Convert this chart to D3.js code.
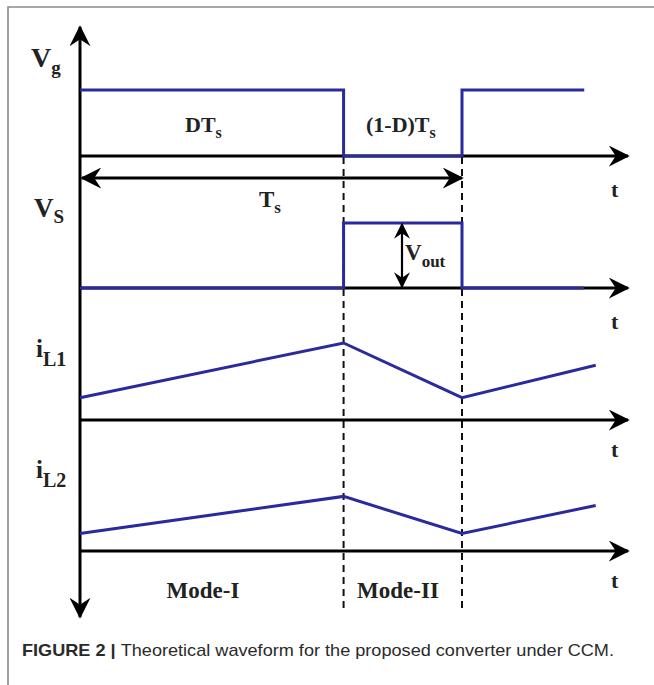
<!DOCTYPE html>
<html>
<head>
<meta charset="utf-8">
<script src="https://cdn.jsdelivr.net/npm/d3@7/dist/d3.min.js"></script>
<style>
html,body{margin:0;padding:0;background:#fff;}
svg{display:block;}
.lbl{font-family:"Liberation Serif","Times New Roman",serif;font-weight:bold;fill:#222;}
</style>
</head>
<body>
<svg id="c" width="654" height="685"></svg>
<script>
// ---- data (time in units of Ts, amplitude in arbitrary units) ----
const D = 0.69;                       // duty ratio
const tEnd = 1.32;                    // end of drawn waveforms
const tRampEnd = 1.35;
const vgTimes  = [0, D, D, 1, 1, tEnd];
const vgValues = [1, 1, 0, 0, 1, 1];
const vsTimes  = [0, D, D, 1, 1, tEnd];
const vsValues = [0, 0, 1, 1, 0, 0];
const iL1Times  = [0, D, 1, tRampEnd];
const iL1Values = [0.29, 1.0, 0.29, 0.71];
const iL2Times  = [0, D, 1, tRampEnd];
const iL2Values = [0.27, 0.84, 0.27, 0.70];
const modeLabels = ["Mode-I", "Mode-II"];
const caption = "Theoretical waveform for the proposed converter under CCM.";

const svg = d3.select("#c");
const blue = "#2a2a9c";

// frame
svg.append("path").attr("d","M8,685 L8,7 L654,7").attr("fill","none")
  .attr("stroke","#8a8a8a").attr("stroke-width",1.6);

// arrow markers
const defs = svg.append("defs");
defs.append("marker").attr("id","ah").attr("viewBox","0 0 12 12")
  .attr("refX",11).attr("refY",6).attr("markerWidth",21).attr("markerHeight",21)
  .attr("markerUnits","userSpaceOnUse").attr("orient","auto-start-reverse")
  .append("path").attr("d","M0,0 L12,6 L0,12 L4,6 Z").attr("fill","#000");
defs.append("marker").attr("id","ahs").attr("viewBox","0 0 12 12")
  .attr("refX",11).attr("refY",6).attr("markerWidth",16).attr("markerHeight",16)
  .attr("markerUnits","userSpaceOnUse").attr("orient","auto-start-reverse")
  .append("path").attr("d","M0,0 L12,6 L0,12 L4,6 Z").attr("fill","#000");

// scales
const x = d3.scaleLinear().domain([0, 1]).range([80, 462]);
const axisEnd = 628;
const panels = [
  {axisY:156, y: d3.scaleLinear().domain([0,1]).range([156, 90])},
  {axisY:288, y: d3.scaleLinear().domain([0,1]).range([288, 223])},
  {axisY:420, y: d3.scaleLinear().domain([0,1]).range([420, 343])},
  {axisY:551, y: d3.scaleLinear().domain([0,1]).range([551, 486])}
];

// dashed lines at transitions
[D, 1].forEach(t=>{
  svg.append("line").attr("x1",x(t)).attr("x2",x(t)).attr("y1",157).attr("y2",612)
    .attr("stroke","#111").attr("stroke-width",2).attr("stroke-dasharray","7,5");
});

// horizontal axes
panels.forEach(p=>{
  svg.append("line").attr("x1",80).attr("x2",axisEnd).attr("y1",p.axisY).attr("y2",p.axisY)
    .attr("stroke","#000").attr("stroke-width",3).attr("marker-end","url(#ah)");
});
// vertical axis with arrows both ends
svg.append("line").attr("x1",80).attr("x2",80).attr("y1",617).attr("y2",27)
  .attr("stroke","#000").attr("stroke-width",3)
  .attr("marker-end","url(#ah)").attr("marker-start","url(#ah)");

// waveforms
const line = (ys)=> d3.line().x(d=>x(d[0])).y(d=>ys(d[1]));
const series = [[vgTimes,vgValues],[vsTimes,vsValues],[iL1Times,iL1Values],[iL2Times,iL2Values]];
series.forEach((s,i)=>{
  const pts = s[0].map((t,k)=>[t, s[1][k]]);
  svg.append("path").attr("d", line(panels[i].y)(pts)).attr("fill","none")
    .attr("stroke",blue).attr("stroke-width",3).attr("stroke-linejoin","miter");
});

// Ts double arrow
svg.append("line").attr("x1",x(0)+2).attr("x2",x(1)).attr("y1",178).attr("y2",178)
  .attr("stroke","#000").attr("stroke-width",3)
  .attr("marker-end","url(#ah)").attr("marker-start","url(#ah)");
// Vout double arrow
svg.append("line").attr("x1",402).attr("x2",402).attr("y1",panels[1].y(1)+1).attr("y2",panels[1].axisY-1)
  .attr("stroke","#000").attr("stroke-width",2.2)
  .attr("marker-end","url(#ahs)").attr("marker-start","url(#ahs)");

// label helper: main + subscript
function lab(xp, yp, main, sub, size, subSize, dy){
  const t = svg.append("text").attr("class","lbl").attr("x",xp).attr("y",yp)
    .style("font-size",size+"px");
  t.append("tspan").text(main);
  if(sub) t.append("tspan").attr("dy",dy).style("font-size",subSize+"px").text(sub);
  return t;
}
lab(31, 67, "V", "g", 28, 19, 7);
lab(34, 217, "V", "S", 27, 19, 6);
lab(36, 357, "i", "L1", 25, 20, 9);
lab(36, 478, "i", "L2", 25, 20, 9);

lab(185, 132, "DT", "s", 22, 16, 6);
lab(366, 132, "(1-D)T", "s", 22, 16, 6);
lab(259, 207, "T", "s", 23, 17, 6);
lab(405, 260, "V", "out", 23, 17, 7);

[197, 329, 457, 588].forEach(yb=>{
  svg.append("text").attr("class","lbl").attr("x",611).attr("y",yb)
    .style("font-size","22px").text("t");
});

svg.append("text").attr("class","lbl").attr("x",203).attr("y",598)
  .attr("text-anchor","middle").style("font-size","23px").text(modeLabels[0]);
svg.append("text").attr("class","lbl").attr("x",398).attr("y",598)
  .attr("text-anchor","middle").style("font-size","23px").text(modeLabels[1]);

// caption
const cap = svg.append("text").attr("x",22).attr("y",656)
  .style("font-family","'Liberation Sans',Arial,sans-serif").style("font-size","17px").attr("fill","#2a2a2a");
cap.append("tspan").style("font-weight","bold").text("FIGURE 2 | ");
cap.append("tspan").text(caption);
cap.attr("textLength", 592).attr("lengthAdjust","spacingAndGlyphs");
</script>
</body>
</html>
